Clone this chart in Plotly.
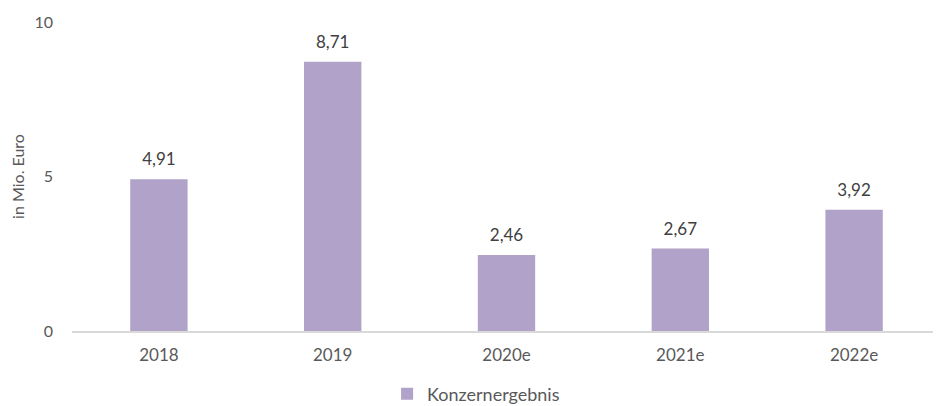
import plotly.graph_objects as go

categories = ["2018", "2019", "2020e", "2021e", "2022e"]
values = [4.91, 8.71, 2.46, 2.67, 3.92]
labels = ["4,91", "8,71", "2,46", "2,67", "3,92"]
series_name = "Konzernergebnis"
y_ticks = [0, 5, 10]

fam = "Lato, Carlito, Calibri, sans-serif"
font = dict(family=fam, size=16, color="#595959")

fig = go.Figure()
fig.add_trace(go.Bar(
    x=categories, y=values, name=series_name,
    marker=dict(color="#b0a2c8", line=dict(width=0)),
))
fig.add_trace(go.Scatter(
    x=categories, y=values, text=labels, mode="markers+text",
    textposition="top center", showlegend=False, hoverinfo="skip",
    marker=dict(size=14, opacity=0), cliponaxis=False,
    textfont=dict(family=fam, size=17, color="#404040"),
))
fig.update_layout(
    width=933, height=398,
    margin=dict(l=64, r=0, t=14, b=75),
    paper_bgcolor="white", plot_bgcolor="white",
    font=font,
    bargap=0.67,
    showlegend=True,
    legend=dict(orientation="h", x=0.465, xanchor="center",
                yref="container", y=0.03, yanchor="middle",
                font=dict(family=fam, size=18, color="#595959")),
    xaxis=dict(type="category", showline=True, linecolor="#d9d9d9", linewidth=1.5,
               ticks="", showgrid=False, tickfont=dict(size=17), automargin=False,
               ticklabelstandoff=8),
    yaxis=dict(range=[0, 10], tickvals=y_ticks, showgrid=False, zeroline=False,
               showline=False, ticks="", ticklabelstandoff=18, automargin=False,
               tickfont=dict(size=16),
               title=dict(text="in Mio. Euro", standoff=18, font=dict(size=16))),
)
fig.write_html("out.html")
